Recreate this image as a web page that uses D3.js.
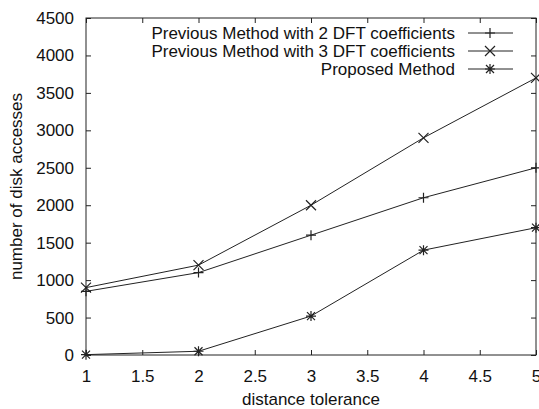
<!DOCTYPE html>
<html><head><meta charset="utf-8">
<script src="https://cdn.jsdelivr.net/npm/d3@7"></script>
<style>body{margin:0;background:#fff}svg{display:block}text{font-family:"Liberation Sans",Arial,sans-serif;fill:#111}</style>
</head><body><svg id="c" width="539" height="409"></svg>
<script>
const xValues = [1, 2, 3, 4, 5];
const dft2 = [850, 1100, 1600, 2100, 2500];
const dft3 = [900, 1200, 2000, 2900, 3700];
const proposed = [5, 50, 520, 1400, 1700];
const seriesNames = ["Previous Method with 2 DFT coefficients", "Previous Method with 3 DFT coefficients", "Proposed Method"];
const xTicks = [1, 1.5, 2, 2.5, 3, 3.5, 4, 4.5, 5];
const yTicks = [0, 500, 1000, 1500, 2000, 2500, 3000, 3500, 4000, 4500];

const svg = d3.select("#c");
const L = 86, R = 536, T = 18, B = 355;
const x = d3.scaleLinear().domain([1, 5]).range([L, R]);
const y = d3.scaleLinear().domain([0, 4500]).range([B, T]);
const ink = "#222";
const fs = 17;

svg.append("rect").attr("x", L).attr("y", T).attr("width", R - L).attr("height", B - T)
  .attr("fill", "none").attr("stroke", ink).attr("stroke-width", 1);

svg.append("g").attr("transform", `translate(0,${B})`)
  .call(d3.axisBottom(x).tickValues(xTicks).tickSize(-5).tickPadding(15).tickFormat(d3.format("")));
svg.append("g").attr("transform", `translate(${L},0)`)
  .call(d3.axisLeft(y).tickValues(yTicks).tickSize(-5).tickPadding(12).tickFormat(d3.format("d")));
svg.append("g").attr("transform", `translate(0,${T})`)
  .call(d3.axisTop(x).tickValues(xTicks).tickSize(-5).tickFormat(""));
svg.append("g").attr("transform", `translate(${R},0)`)
  .call(d3.axisRight(y).tickValues(yTicks).tickSize(-5).tickFormat(""));
svg.selectAll(".domain").remove();
svg.selectAll(".tick line").attr("stroke", ink);
svg.selectAll(".tick text").attr("font-size", fs).attr("fill", "#111")
  .style("font-family", '"Liberation Sans",Arial,sans-serif');

svg.append("text").attr("x", (L + R) / 2).attr("y", 405).attr("text-anchor", "middle")
  .attr("font-size", fs).text("distance tolerance");
svg.append("text").attr("transform", `translate(22,${(T + B) / 2}) rotate(-90)`)
  .attr("text-anchor", "middle").attr("font-size", fs).text("number of disk accesses");

const line = d3.line().x(d => x(d[0])).y(d => y(d[1]));
const marker = {
  plus: s => `M${-s},0H${s}M0,${-s}V${s}`,
  cross: s => `M${-s},${-s}L${s},${s}M${-s},${s}L${s},${-s}`,
  star: s => `M${-s},0H${s}M0,${-s}V${s}M${-s*0.8},${-s*0.8}L${s*0.8},${s*0.8}M${-s*0.8},${s*0.8}L${s*0.8},${-s*0.8}`
};
const series = [
  {name: seriesNames[0], vals: dft2, m: "plus"},
  {name: seriesNames[1], vals: dft3, m: "cross"},
  {name: seriesNames[2], vals: proposed, m: "star"}
];
series.forEach((s, i) => {
  const pts = xValues.map((xv, j) => [xv, s.vals[j]]);
  svg.append("path").attr("d", line(pts)).attr("fill", "none").attr("stroke", ink).attr("stroke-width", 1);
  svg.selectAll(null).data(pts).enter().append("path")
    .attr("transform", d => `translate(${x(d[0])},${y(d[1])})`)
    .attr("d", marker[s.m](5)).attr("stroke", ink).attr("stroke-width", 1.2).attr("fill", "none");
  const ly = 33 + i * 18;
  svg.append("text").attr("x", 455).attr("y", ly).attr("dy", "0.35em").attr("text-anchor", "end")
    .attr("font-size", fs).text(s.name);
  svg.append("line").attr("x1", 468).attr("x2", 513).attr("y1", ly).attr("y2", ly)
    .attr("stroke", ink).attr("stroke-width", 1);
  svg.append("path").attr("transform", `translate(490,${ly})`).attr("d", marker[s.m](5))
    .attr("stroke", ink).attr("stroke-width", 1.2).attr("fill", "none");
});
</script></body></html>
